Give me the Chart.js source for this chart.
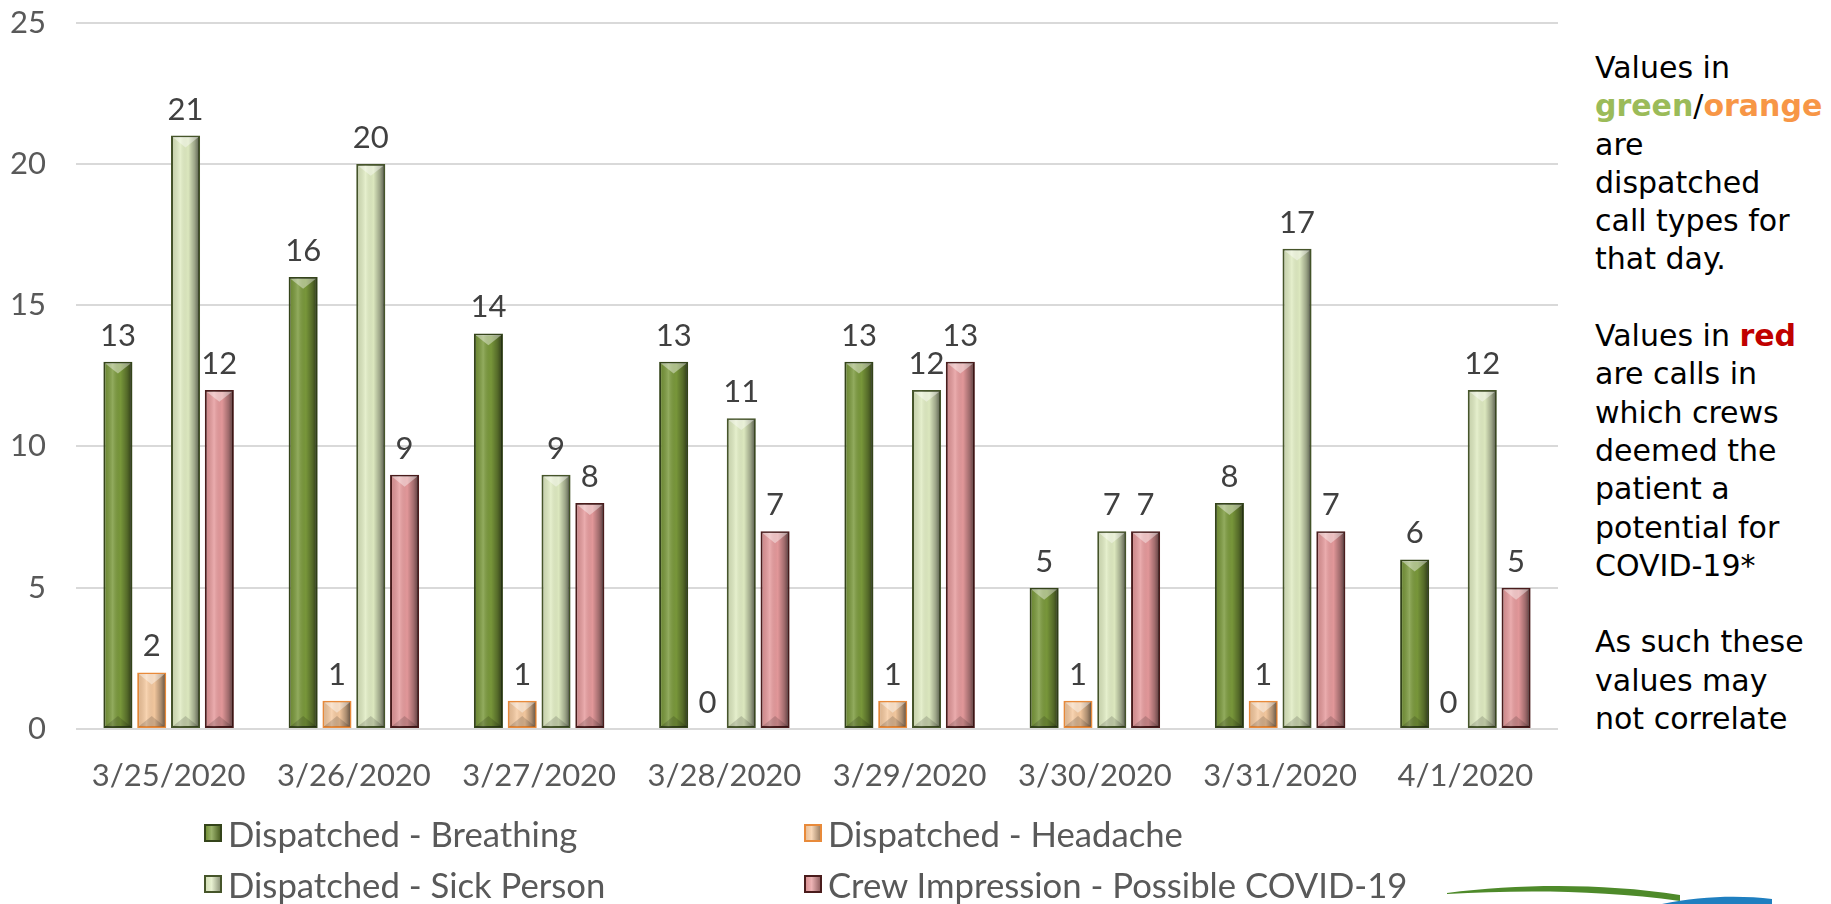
<!DOCTYPE html>
<html>
<head>
<meta charset="utf-8">
<script src="https://cdn.jsdelivr.net/npm/chart.js@4.4.1/dist/chart.umd.min.js"></script>
<style>
  html, body { margin:0; padding:0; background:#fff; }
  body { width:1831px; height:904px; overflow:hidden; position:relative; font-family: Lato, sans-serif; }
  #wrap { position:absolute; left:0; top:-26px; width:1570px; height:826px; }
  #legend { position:absolute; left:0; top:0; width:1570px; height:904px; pointer-events:none; }
  .li { position:absolute; display:flex; align-items:center; font-family: Lato, sans-serif; font-size:34.7px; color:#595959; white-space:nowrap; }
  .box { width:18px; height:18px; box-sizing:border-box; margin-right:6px; }
  #note { position:absolute; left:1595px; top:49px; font-family:"DejaVu Sans", sans-serif; font-size:30px; line-height:38.3px; color:#000; }
  #note b { font-weight:bold; }
  #logo { position:absolute; left:1400px; top:870px; }
</style>
</head>
<body>
<div id="wrap"><canvas id="c"></canvas></div>
<div id="legend"></div>
<div id="note">Values in<br><b style="color:#9bbb59">green</b>/<b style="color:#f79646">orange</b><br>are<br>dispatched<br>call types for<br>that day.<br><br>Values in <b style="color:#c00000">red</b><br>are calls in<br>which crews<br>deemed the<br>patient a<br>potential for<br>COVID-19*<br><br>As such these<br>values may<br>not correlate</div>
<svg id="logo" width="431" height="34" viewBox="0 0 431 34">
  <path d="M47 23 C120 14, 200 13, 280 25 L280 31 C200 20, 120 20, 47 24 Z" fill="#4e8a2a"/>
  <path d="M262 34 C300 26, 340 25, 372 29 L372 34 Z" fill="#1f7fc0"/>
</svg>
<script>
const categories = ['3/25/2020','3/26/2020','3/27/2020','3/28/2020','3/29/2020','3/30/2020','3/31/2020','4/1/2020'];
const seriesNames = ['Dispatched - Breathing','Dispatched - Headache','Dispatched - Sick Person','Crew Impression - Possible COVID-19'];
const breathing  = [13,16,14,13,13,5,8,6];
const headache   = [2,1,1,0,1,1,1,0];
const sickPerson = [21,20,9,11,12,7,17,12];
const covid      = [12,9,8,7,13,7,7,5];
const yMin = 0, yMax = 25, yStep = 5;

const fills   = ['#7a993b','#f6caa0','#e0ecc2','#e69a9c'];
const borders = ['#34441a','#e88a3a','#46552a','#4a1c1c'];

const bevel = {
  id:'bevel',
  afterDatasetsDraw(chart){
    const ctx = chart.ctx;
    chart.data.datasets.forEach((ds,i)=>{
      const meta = chart.getDatasetMeta(i);
      meta.data.forEach((bar)=>{
        const {x,y,base,width} = bar.getProps(['x','y','base','width'], true);
        const h = base - y;
        if (h < 2) return;
        const l = x - width/2 + 1.5, r = x + width/2 - 1.5;
        const t = y + 1.5, bt = base - 1.5;
        ctx.save();
        const g = ctx.createLinearGradient(l,0,r,0);
        g.addColorStop(0,'rgba(0,0,0,0.10)');
        g.addColorStop(0.3,'rgba(255,255,255,0.18)');
        g.addColorStop(0.6,'rgba(0,0,0,0.02)');
        g.addColorStop(0.85,'rgba(0,0,0,0.30)');
        g.addColorStop(1,'rgba(0,0,0,0.55)');
        ctx.fillStyle = g;
        ctx.fillRect(l, t, r-l, bt-t);
        const b = Math.min((r-l)*0.4, (bt-t)/2);
        ctx.beginPath(); ctx.moveTo(l,t); ctx.lineTo(r,t); ctx.lineTo(x,t+b); ctx.closePath();
        ctx.fillStyle = 'rgba(255,255,255,0.40)'; ctx.fill();
        ctx.beginPath(); ctx.moveTo(l,bt); ctx.lineTo(r,bt); ctx.lineTo(x,bt-b); ctx.closePath();
        ctx.fillStyle = 'rgba(0,0,0,0.15)'; ctx.fill();
        ctx.restore();
      });
    });
  }
};

const valueLabels = {
  id:'valueLabels',
  afterDatasetsDraw(chart){
    const ctx = chart.ctx;
    ctx.save();
    ctx.font = '31px Lato, sans-serif';
    ctx.fillStyle = '#404040';
    ctx.textAlign = 'center';
    ctx.textBaseline = 'alphabetic';
    chart.data.datasets.forEach((ds,i)=>{
      const meta = chart.getDatasetMeta(i);
      meta.data.forEach((bar,j)=>{
        const {x,y} = bar.getProps(['x','y'], true);
        ctx.fillText(String(ds.data[j]), x, y - 16);
      });
    });
    ctx.restore();
  }
};

const dataSeries = [breathing, headache, sickPerson, covid];
const chart = new Chart(document.getElementById('c'), {
  type:'bar',
  data:{
    labels: categories,
    datasets: dataSeries.map((d,i)=>({
      label: seriesNames[i],
      data: d,
      backgroundColor: fills[i],
      borderColor: borders[i],
      borderWidth: 2,
      borderSkipped: false,
      categoryPercentage: 0.73,
      barPercentage: 0.86
    }))
  },
  options:{
    responsive:true,
    maintainAspectRatio:false,
    animation:false,
    layout:{ padding:{ top:0, right:12, left:0, bottom:0 } },
    plugins:{ legend:{ display:false }, tooltip:{ enabled:false } },
    scales:{
      x:{
        grid:{ display:false },
        border:{ display:false },
        ticks:{ font:{ family:'Lato', size:31 }, color:'#595959', padding:20 },
        afterFit(s){ s.height = 71; }
      },
      y:{
        min:yMin, max:yMax,
        ticks:{ stepSize:yStep, font:{ family:'Lato', size:31 }, color:'#595959', padding:30 },
        grid:{ color:'#d9d9d9', lineWidth:2, drawTicks:false },
        border:{ display:false },
        afterFit(s){ s.width = 76; }
      }
    }
  },
  plugins:[bevel, valueLabels]
});

// HTML legend built from chart datasets
const legendPos = [[204,833],[804,833],[204,884],[804,884]];
const legend = document.getElementById('legend');
chart.data.datasets.forEach((ds,i)=>{
  const el = document.createElement('div');
  el.className = 'li';
  el.style.left = legendPos[i][0] + 'px';
  el.style.top = (legendPos[i][1] - 20) + 'px';
  el.style.height = '40px';
  const box = document.createElement('span');
  box.className = 'box';
  box.style.background = `linear-gradient(90deg, rgba(0,0,0,0.05), rgba(255,255,255,0.25) 40%, rgba(0,0,0,0.35)), ${ds.backgroundColor}`;
  box.style.border = `2px solid ${ds.borderColor}`;
  const txt = document.createElement('span');
  txt.textContent = ds.label;
  el.appendChild(box); el.appendChild(txt);
  legend.appendChild(el);
});
</script>
</body>
</html>
